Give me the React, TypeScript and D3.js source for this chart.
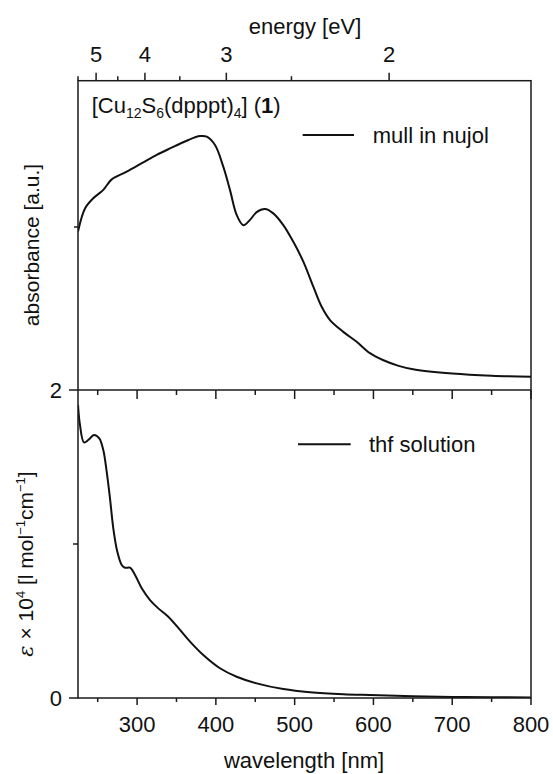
import React from "react";
import * as d3 from "d3";

// ---- data ----
const mullWavelength = [225, 233.9, 244.4, 257.1, 267.8, 286.8, 307.9, 324.9, 341.8, 363, 379.9, 388.4, 398.9, 409.4, 417.9, 426.4, 434.8, 443.3, 451.8, 462.4, 472.9, 485.6, 498.3, 511, 523.7, 534.3, 544.9, 561.7, 578.7, 595.6, 612, 632, 652, 700, 750, 800];
const mullAbsorbance = [0.512, 0.587, 0.62, 0.647, 0.681, 0.706, 0.736, 0.76, 0.781, 0.806, 0.821, 0.819, 0.792, 0.722, 0.647, 0.566, 0.533, 0.55, 0.575, 0.585, 0.571, 0.533, 0.479, 0.415, 0.334, 0.269, 0.226, 0.188, 0.156, 0.119, 0.097, 0.078, 0.066, 0.053, 0.046, 0.043];

const thfWavelength = [225, 227.5, 232.6, 238, 245.3, 252, 257.1, 261.4, 265.6, 269.8, 274.9, 280.5, 284.7, 291, 297.4, 305.9, 316.4, 326.9, 339.6, 354.5, 367.2, 384, 405.2, 426.4, 451.8, 485.6, 519.5, 561.7, 595.6, 650, 700, 750, 800];
const thfEpsilon = [1.903, 1.773, 1.66, 1.675, 1.708, 1.686, 1.61, 1.47, 1.297, 1.102, 0.95, 0.864, 0.846, 0.846, 0.799, 0.712, 0.636, 0.582, 0.528, 0.442, 0.366, 0.279, 0.193, 0.138, 0.095, 0.058, 0.037, 0.024, 0.019, 0.012, 0.007, 0.005, 0.004];

const wavelengthTicks = [300, 400, 500, 600, 700, 800];
const wavelengthMinorTicks = [250, 350, 450, 550, 650, 750];
const energyTicks = [5, 4, 3, 2];
const energyMinorTicks = [4.5, 3.5, 2.5];
const epsilonTickLabels = [0, 2];
const epsilonTicks = [0, 1, 2];

const HC = 1239.84;

export default function App() {
  const left = 78;
  const right = 531;
  const top = 80.7;
  const mid = 390;
  const bottom = 698;

  const x = d3.scaleLinear().domain([225, 800]).range([left, right]);
  const yTop = d3.scaleLinear().domain([0, 1]).range([mid, top]);
  const yBot = d3.scaleLinear().domain([0, 2]).range([bottom, mid]);

  const lineTop = d3
    .line<number>()
    .x((_, i) => x(mullWavelength[i]))
    .y((d) => yTop(d))
    .curve(d3.curveCatmullRom.alpha(0.5));
  const lineBot = d3
    .line<number>()
    .x((_, i) => x(thfWavelength[i]))
    .y((d) => yBot(d))
    .curve(d3.curveCatmullRom.alpha(0.5));

  const font = "'Liberation Sans', Arial, Helvetica, sans-serif";
  const axisColor = "#1a1a1a";
  const fs = 22;

  return (
    <svg width={553} height={774} style={{ position: "absolute", left: 0, top: 0 }} fontFamily={font}>
      <rect x={0} y={0} width={553} height={774} fill="#fff" />
      <defs>
        <clipPath id="plotclip">
          <rect x={left} y={top} width={right - left} height={bottom - top} />
        </clipPath>
      </defs>

      {/* curves */}
      <g clipPath="url(#plotclip)">
        <path d={lineTop(mullAbsorbance) || ""} fill="none" stroke="#111" strokeWidth={2} />
        <path d={lineBot(thfEpsilon) || ""} fill="none" stroke="#111" strokeWidth={2} />
      </g>

      {/* frames */}
      <rect x={left} y={top} width={right - left} height={bottom - top} fill="none" stroke={axisColor} strokeWidth={1.5} />
      <line x1={left} x2={right} y1={mid} y2={mid} stroke={axisColor} strokeWidth={1.5} />

      {/* top energy axis */}
      {energyTicks.map((e) => (
        <g key={"e" + e}>
          <line x1={x(HC / e)} x2={x(HC / e)} y1={top} y2={top - 8} stroke={axisColor} strokeWidth={1.5} />
          <text x={x(HC / e)} y={61.5} fontSize={fs} textAnchor="middle" fill="#111">
            {e}
          </text>
        </g>
      ))}
      {energyMinorTicks.map((e) => (
        <line key={"em" + e} x1={x(HC / e)} x2={x(HC / e)} y1={top} y2={top - 4.5} stroke={axisColor} strokeWidth={1.5} />
      ))}
      <line x1={left} x2={left} y1={top} y2={top - 4.5} stroke={axisColor} strokeWidth={1.5} />
      <text x={305} y={33.5} fontSize={fs} textAnchor="middle" fill="#111">
        energy [eV]
      </text>

      {/* middle axis ticks (pointing into lower panel) */}
      {wavelengthTicks.map((w) => (
        <line key={"mt" + w} x1={x(w)} x2={x(w)} y1={mid} y2={mid + 9} stroke={axisColor} strokeWidth={1.5} />
      ))}
      {wavelengthMinorTicks.map((w) => (
        <line key={"mm" + w} x1={x(w)} x2={x(w)} y1={mid} y2={mid + 5} stroke={axisColor} strokeWidth={1.5} />
      ))}

      {/* bottom axis */}
      {wavelengthTicks.map((w) => (
        <g key={"bt" + w}>
          <line x1={x(w)} x2={x(w)} y1={bottom} y2={bottom + 7} stroke={axisColor} strokeWidth={1.5} />
          <text x={x(w)} y={731.5} fontSize={fs} textAnchor="middle" fill="#111">
            {w}
          </text>
        </g>
      ))}
      {wavelengthMinorTicks.map((w) => (
        <line key={"bm" + w} x1={x(w)} x2={x(w)} y1={bottom} y2={bottom + 4} stroke={axisColor} strokeWidth={1.5} />
      ))}
      <text x={304} y={767.5} fontSize={fs} textAnchor="middle" fill="#111">
        wavelength [nm]
      </text>

      {/* left axis of lower panel */}
      {epsilonTicks.map((v) => (
        <line key={"yt" + v} x1={left} x2={left - (v === 1 ? 5 : 9)} y1={yBot(v)} y2={yBot(v)} stroke={axisColor} strokeWidth={1.5} />
      ))}
      {epsilonTickLabels.map((v) => (
        <text key={"yl" + v} x={62} y={yBot(v) + 8} fontSize={fs} textAnchor="end" fill="#111">
          {v}
        </text>
      ))}
      <line x1={left} x2={left - 4} y1={227} y2={227} stroke={axisColor} strokeWidth={1.5} />

      {/* y titles */}
      <text transform="translate(39,245) rotate(-90)" fontSize={21} textAnchor="middle" fill="#111">
        absorbance [a.u.]
      </text>
      <text transform="translate(33,564) rotate(-90)" fontSize={21} textAnchor="middle" fill="#111">
        <tspan fontStyle="italic" fontFamily="'DejaVu Serif', serif">ε</tspan>
        <tspan> × 10</tspan>
        <tspan fontSize={13} dy={-8}>4</tspan>
        <tspan dy={8}> [l mol</tspan>
        <tspan fontSize={13} dy={-8}>−1</tspan>
        <tspan dy={8}>cm</tspan>
        <tspan fontSize={13} dy={-8}>−1</tspan>
        <tspan dy={8}>]</tspan>
      </text>

      {/* compound label */}
      <text x={91.7} y={112.5} fontSize={fs} fill="#111">
        <tspan>[Cu</tspan>
        <tspan fontSize={14} dy={5}>12</tspan>
        <tspan dy={-5}>S</tspan>
        <tspan fontSize={14} dy={5}>6</tspan>
        <tspan dy={-5}>(dpppt)</tspan>
        <tspan fontSize={14} dy={5}>4</tspan>
        <tspan dy={-5}>] (</tspan>
        <tspan fontWeight="bold">1</tspan>
        <tspan>)</tspan>
      </text>

      {/* legends */}
      <line x1={302.7} x2={354} y1={135} y2={135} stroke="#111" strokeWidth={2} />
      <text x={372.7} y={143} fontSize={fs} fill="#111">
        mull in nujol
      </text>
      <line x1={298} x2={350.7} y1={444.3} y2={444.3} stroke="#111" strokeWidth={2} />
      <text x={369} y={452} fontSize={fs} fill="#111">
        thf solution
      </text>
    </svg>
  );
}
